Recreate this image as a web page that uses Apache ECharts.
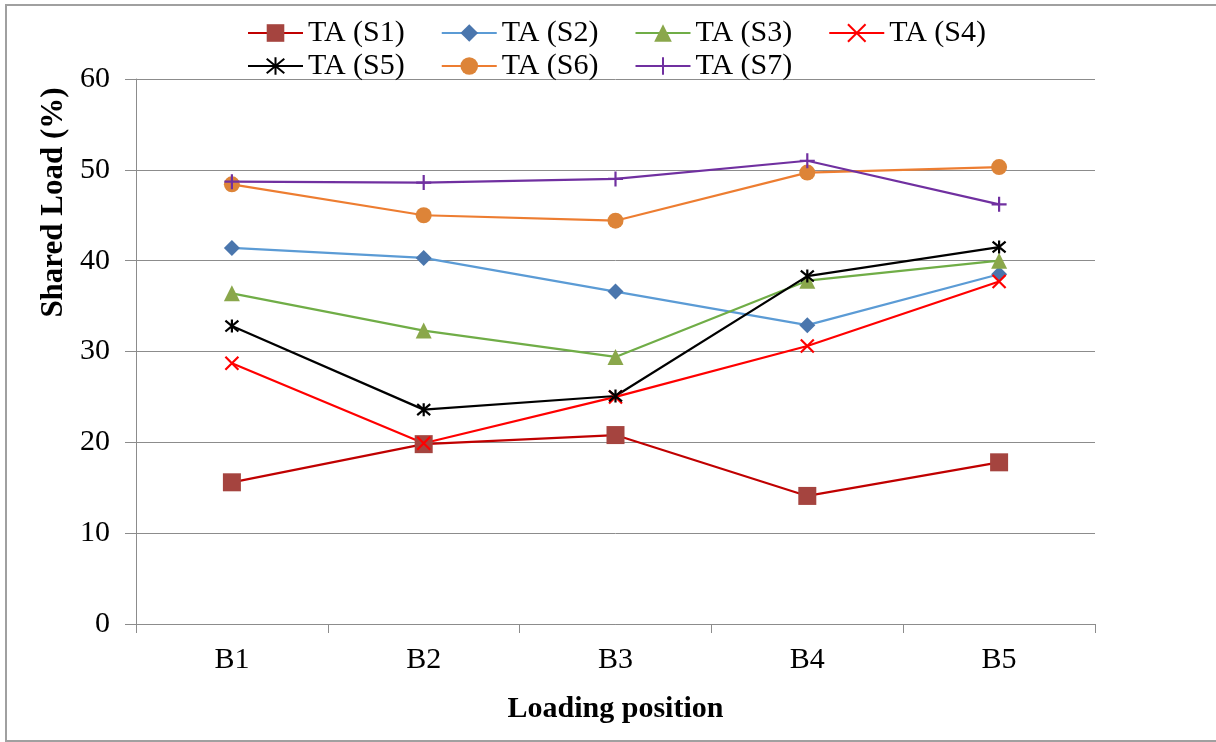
<!DOCTYPE html>
<html>
<head>
<meta charset="utf-8">
<script src="https://cdn.jsdelivr.net/npm/echarts@6/dist/echarts.min.js"></script>
<style>
html,body{margin:0;padding:0;background:#fff;}
#chart{width:1216px;height:742px;}
</style>
</head>
<body>
<div id="chart"></div>
<script>
var categories = ['B1', 'B2', 'B3', 'B4', 'B5'];
var seriesNames = ['TA (S1)', 'TA (S2)', 'TA (S3)', 'TA (S4)', 'TA (S5)', 'TA (S6)', 'TA (S7)'];
var s1 = [15.6, 19.8, 20.8, 14.1, 17.8];
var s2 = [41.4, 40.3, 36.6, 32.9, 38.5];
var s3 = [36.4, 32.3, 29.4, 37.8, 40.0];
var s4 = [28.7, 19.9, 25.0, 30.6, 37.7];
var s5 = [32.8, 23.6, 25.1, 38.3, 41.5];
var s6 = [48.4, 45.0, 44.4, 49.7, 50.3];
var s7 = [48.7, 48.6, 49.0, 51.0, 46.2];
var yTicks = [0, 10, 20, 30, 40, 50, 60];

var FONT = 'Liberation Serif';
var chart = echarts.init(document.getElementById('chart'), null, {renderer: 'canvas'});

function mk(name, data, lineColor, markColor, symbol, size, stroke) {
  return {
    name: name, type: 'line', data: data,
    symbol: symbol, symbolSize: size, showAllSymbol: true,
    lineStyle: {color: lineColor, width: 2.2},
    itemStyle: {color: markColor, borderColor: markColor, borderWidth: stroke ? 2.2 : 0},
    emphasis: {disabled: true},
    z: 2
  };
}
var XPATH = 'path://M0,0L10,10M10,0L0,10';
var STAR = 'path://M0,0L10,10M10,0L0,10M5,-1L5,11';
var PLUS = 'path://M5,0L5,10M0,5L10,5';

var series = [
  mk(seriesNames[0], s1, '#c00000', '#a5443f', 'rect', 18, false),
  mk(seriesNames[1], s2, '#5b9bd5', '#4a76ad', 'diamond', 16, false),
  mk(seriesNames[2], s3, '#70ad47', '#8aa74b', 'triangle', 16, false),
  mk(seriesNames[3], s4, '#ff0000', '#ff0000', XPATH, 13, true),
  mk(seriesNames[4], s5, '#000000', '#000000', STAR, 13, true),
  mk(seriesNames[5], s6, '#ed7d31', '#dd8438', 'circle', 16, false),
  mk(seriesNames[6], s7, '#7030a0', '#7030a0', PLUS, 15, true)
];

var legendText = {fontFamily: FONT, fontSize: 30, color: '#000', lineHeight: 30};
var option = {
  animation: false,
  backgroundColor: '#fff',
  graphic: [{
    type: 'rect', shape: {x: 6, y: 5, width: 1220, height: 736},
    style: {fill: 'none', stroke: '#a0a0a0', lineWidth: 2}, silent: true, z: -1
  }],
  legend: [{
    data: seriesNames.slice(0, 4), left: 242, top: 13, orient: 'horizontal',
    itemWidth: 55, itemHeight: 22, itemGap: 36, textStyle: legendText, selectedMode: false
  }, {
    data: seriesNames.slice(4), left: 242, top: 46, orient: 'horizontal',
    itemWidth: 55, itemHeight: 22, itemGap: 36, textStyle: legendText, selectedMode: false
  }],
  grid: {left: 136, right: 121, top: 79, bottom: 118, containLabel: false},
  xAxis: {
    type: 'category', data: categories, boundaryGap: true,
    axisLine: {show: true, lineStyle: {color: '#8c8c8c', width: 1}},
    axisTick: {show: true, length: 9, alignWithLabel: false, lineStyle: {color: '#8c8c8c'}},
    axisLabel: {fontFamily: FONT, fontSize: 30, color: '#000', margin: 21},
    name: 'Loading position', nameLocation: 'middle', nameGap: 70,
    nameTextStyle: {fontFamily: FONT, fontSize: 30, fontWeight: 'bold', color: '#000'}
  },
  yAxis: {
    type: 'value', min: yTicks[0], max: yTicks[yTicks.length - 1], interval: 10,
    axisLine: {show: true, lineStyle: {color: '#8c8c8c', width: 1}},
    axisTick: {show: true, length: 11, inside: false, lineStyle: {color: '#8c8c8c'}},
    splitLine: {show: true, lineStyle: {color: '#8c8c8c', width: 1}},
    axisLabel: {fontFamily: FONT, fontSize: 30, color: '#000', margin: 26},
    name: 'Shared Load (%)', nameLocation: 'middle', nameGap: 63, nameRotate: 90,
    nameTextStyle: {fontFamily: FONT, fontSize: 31, fontWeight: 'bold', color: '#000', padding: [0, 0, 0, 298]}
  },
  series: series
};
chart.setOption(option);
</script>
</body>
</html>
